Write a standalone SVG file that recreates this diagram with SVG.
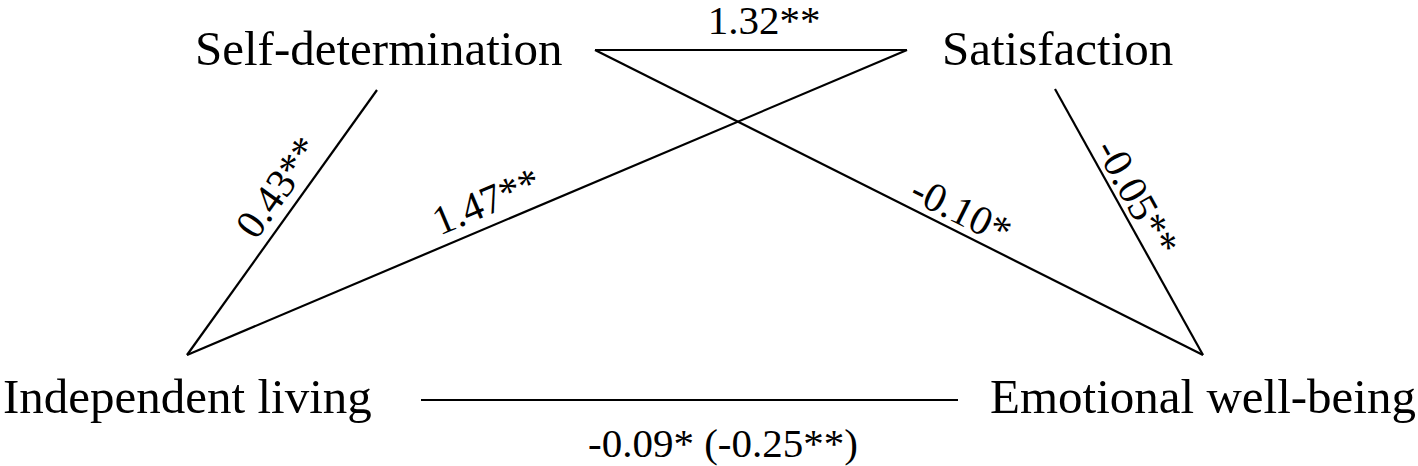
<svg xmlns="http://www.w3.org/2000/svg" width="1418" height="466" viewBox="0 0 1418 466">
<style>
.node{font-family:"Liberation Serif","Times New Roman",serif;font-size:49px;fill:#000}
.lbl{font-family:"Liberation Serif","Times New Roman",serif;font-size:41px;fill:#000;text-anchor:middle}
.edge{stroke:#000;stroke-width:2.2;fill:none}
</style>
<rect width="1418" height="466" fill="#fff"/>
<g id="connectors">
<line class="edge" x1="595" y1="50" x2="907" y2="50"/>
<line class="edge" x1="595" y1="50" x2="1203" y2="355"/>
<line class="edge" x1="907" y1="50" x2="187" y2="355"/>
<line class="edge" x1="377" y1="90" x2="187" y2="355"/>
<line class="edge" x1="1055" y1="89" x2="1203" y2="355"/>
<line class="edge" x1="421" y1="400" x2="958" y2="400"/>
<text class="lbl" x="764" y="34">1.32**</text>
<text class="lbl" transform="translate(297,201) rotate(-54.4)" y="-10">0.43**</text>
<text class="lbl" transform="translate(496,224) rotate(-22.96)" y="-11">1.47**</text>
<text class="lbl" transform="translate(952,229) rotate(26.6)" y="-7">-0.10*</text>
<text class="lbl" transform="translate(1120,207) rotate(60.9)" y="-6">-0.05**</text>
<text class="lbl" x="723" y="457">-0.09* (-0.25**)</text>
</g>
<g id="node-self-determination"><text class="node" x="195" y="65">Self-determination</text></g>
<g id="node-satisfaction"><text class="node" x="942" y="65">Satisfaction</text></g>
<g id="node-independent-living"><text class="node" x="3" y="413">Independent living</text></g>
<g id="node-emotional-well-being"><text class="node" x="990" y="413">Emotional well-being</text></g>
</svg>
